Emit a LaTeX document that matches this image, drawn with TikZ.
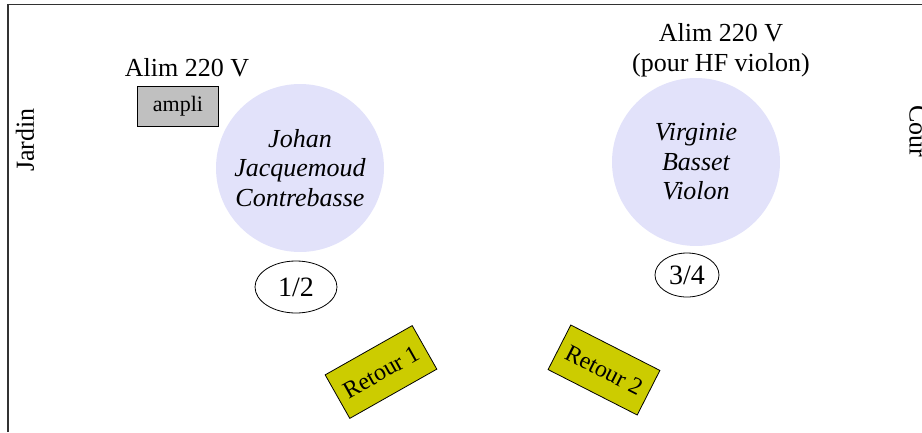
\documentclass[tikz,border=0pt]{standalone}
\usepackage{fontspec}
\setmainfont{Liberation Serif}
\usetikzlibrary{shapes.geometric}
\definecolor{lav}{RGB}{226,226,250}
\definecolor{olive}{RGB}{204,204,0}
\definecolor{ampgray}{RGB}{192,192,192}
\definecolor{framec}{RGB}{50,50,50}
\begin{document}
\begin{tikzpicture}[x=1pt,y=-1pt,
  lbl/.style={font=\fontsize{26}{30}\selectfont, inner sep=0pt, align=center},
  musician/.style={circle, fill=lav, minimum size=168pt, inner sep=0pt, align=center,
    font=\fontsize{26}{29.5}\selectfont\itshape},
  chan/.style={ellipse, draw, line width=0.8pt, inner sep=0pt, font=\fontsize{28}{30}\selectfont},
  retourbox/.style={rectangle, draw, line width=0.8pt, fill=olive, minimum width=100pt, minimum height=50pt, inner sep=0pt, font=\fontsize{24}{28}\selectfont},
  amplibox/.style={rectangle, draw, line width=0.8pt, fill=ampgray, minimum width=81pt, minimum height=40pt, inner sep=0pt, font=\fontsize{22}{26}\selectfont}
]
\useasboundingbox (0,0) rectangle (922,432);
\draw[framec, line width=1.4pt] (8,432) -- (8,4.5) -- (922,4.5);
\node[lbl] (alimL) at (187,68) {Alim 220 V};
\node[amplibox] (ampli) at (178,106) {ampli};
\node[musician] (johan) at (300,168) {Johan\\Jacquemoud\\Contrebasse};
\node[musician] (virginie) at (696,162) {Virginie\\Basset\\Violon};
\node[lbl] (alimR) at (721,50) {Alim 220 V\\(pour HF violon)};
\node[chan, minimum width=82pt, minimum height=52pt] (c12) at (296,287) {1/2};
\node[chan, minimum width=64pt, minimum height=44pt] (c34) at (687,275) {3/4};
\node[retourbox, rotate=29.5] (r1) at (381,372) {Retour 1};
\node[retourbox, rotate=-27] (r2) at (604,370) {Retour 2};
\node[lbl, rotate=90] (jardin) at (25,140) {Jardin};
\node[lbl, rotate=-90] (cour) at (918,131) {Cour};
\end{tikzpicture}
\end{document}
